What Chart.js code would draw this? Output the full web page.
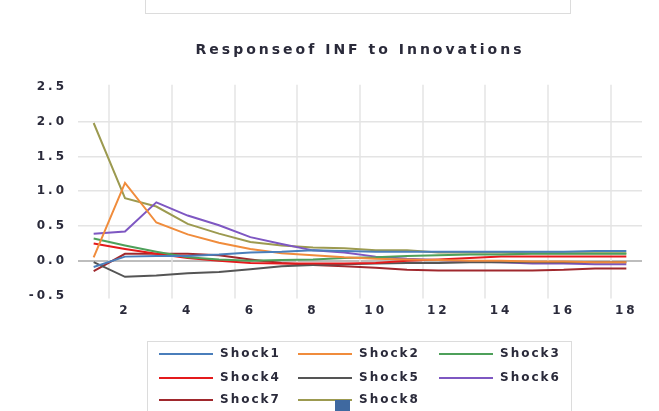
<!DOCTYPE html>
<html>
<head>
<meta charset="utf-8">
<script src="https://cdn.jsdelivr.net/npm/chart.js@4/dist/chart.umd.min.js"></script>
<style>
  html, body { margin: 0; padding: 0; background: #fff; }
  #wrap { position: relative; width: 659px; height: 411px; overflow: hidden; }
  #topbox { position: absolute; left: 145px; top: -12px; width: 426px; height: 26px;
            border: 1.5px solid #dcdcdc; box-sizing: border-box; }
  #legend { position: absolute; left: 147px; top: 341px; width: 425px; height: 90px;
            border: 1.5px solid #dcdcdc; box-sizing: border-box; }
  .item { position: absolute; height: 14px; font: bold 12px "DejaVu Sans", sans-serif;
          letter-spacing: 2px; color: #2a2a3a; }
  .item .ln { position: absolute; top: 6px; height: 2px; width: 54px; }
  .item .tx { position: absolute; left: 61px; top: -1px; white-space: nowrap; }
  #marker { position: absolute; left: 335px; top: 400px; width: 15px; height: 12px; background: #3f69a0; }
</style>
</head>
<body>
<div id="wrap">
  <canvas id="chart" width="659" height="411"></canvas>
  <div id="topbox"></div>
  <div id="legend"></div>
  <div id="marker"></div>
</div>
<script>
// periods 1..18
const periods = ['1','2','3','4','5','6','7','8','9','10','11','12','13','14','15','16','17','18'];

const seriesNames  = ['Shock1','Shock2','Shock3','Shock4','Shock5','Shock6','Shock7','Shock8'];
const seriesColors = ['#4a7ebb','#f08c3c','#4ea05a','#e41a1c','#555555','#7e57c2','#a0282d','#9c9a50'];

const shock1 = [-0.09, 0.06, 0.07, 0.07, 0.09, 0.12, 0.13, 0.15, 0.14, 0.13, 0.13, 0.13, 0.13, 0.13, 0.13, 0.13, 0.14, 0.14];
const shock2 = [0.05, 1.12, 0.55, 0.38, 0.26, 0.17, 0.11, 0.08, 0.05, 0.03, 0.02, 0.01, 0.0, 0.0, -0.01, -0.01, -0.02, -0.02];
const shock3 = [0.32, 0.22, 0.13, 0.05, 0.02, 0.0, 0.01, 0.02, 0.04, 0.05, 0.07, 0.08, 0.09, 0.09, 0.1, 0.1, 0.1, 0.1];
const shock4 = [0.25, 0.17, 0.1, 0.04, 0.0, -0.03, -0.04, -0.04, -0.04, -0.03, 0.0, 0.02, 0.04, 0.06, 0.06, 0.06, 0.06, 0.06];
const shock5 = [-0.02, -0.23, -0.21, -0.18, -0.16, -0.12, -0.08, -0.06, -0.05, -0.04, -0.03, -0.03, -0.02, -0.02, -0.02, -0.02, -0.02, -0.02];
const shock6 = [0.39, 0.42, 0.84, 0.65, 0.51, 0.34, 0.24, 0.15, 0.12, 0.06, 0.03, 0.01, -0.01, -0.02, -0.04, -0.04, -0.05, -0.05];
const shock7 = [-0.15, 0.1, 0.1, 0.1, 0.08, 0.02, -0.03, -0.06, -0.08, -0.1, -0.13, -0.14, -0.14, -0.14, -0.14, -0.13, -0.11, -0.11];
const shock8 = [1.98, 0.9, 0.78, 0.53, 0.39, 0.27, 0.22, 0.19, 0.18, 0.15, 0.15, 0.12, 0.12, 0.12, 0.11, 0.11, 0.11, 0.11];

const seriesValues = [shock1, shock2, shock3, shock4, shock5, shock6, shock7, shock8];

const yMin = -0.5, yMax = 2.5, yStep = 0.5;

const FONT = { family: '"DejaVu Sans", sans-serif', size: 12, weight: 'bold' };
const TEXT = '#2a2a3a';
const GRID = '#e4e4e4';

// canvas letter spacing (the reference text is wide)
const spacingPlugin = {
  id: 'spacing',
  beforeLayout(chart) { chart.ctx.letterSpacing = '3px'; },
  beforeDraw(chart) { chart.ctx.letterSpacing = '3px'; },
};

// vertical grid lines between every second pair of periods
const vGridPlugin = {
  id: 'vgrid',
  beforeDatasetsDraw(chart) {
    const x = chart.scales.x, area = chart.chartArea, ctx = chart.ctx;
    ctx.save();
    ctx.strokeStyle = GRID;
    ctx.lineWidth = 1.5;
    for (let i = 1; i < periods.length; i += 2) {
      const px = Math.round((x.getPixelForTick(i - 1) + x.getPixelForTick(i)) / 2);
      ctx.beginPath();
      ctx.moveTo(px, area.top - 2);
      ctx.lineTo(px, area.bottom + 3);
      ctx.stroke();
    }
    ctx.restore();
  },
};

new Chart(document.getElementById('chart'), {
  type: 'line',
  data: {
    labels: periods,
    datasets: seriesNames.map((name, i) => ({
      label: name,
      data: seriesValues[i],
      borderColor: seriesColors[i],
      backgroundColor: seriesColors[i],
      borderWidth: 2,
      pointRadius: 0,
      tension: 0,
      fill: false,
    })),
  },
  options: {
    responsive: false,
    animation: false,
    layout: { padding: { left: 0, right: 17, top: 0, bottom: 85 } },
    plugins: {
      legend: { display: false },
      tooltip: { enabled: false },
      title: {
        display: true,
        fullSize: false,
        text: 'Responseof INF to Innovations',
        color: TEXT,
        font: { family: FONT.family, size: 14, weight: 'bold' },
        padding: { top: 42, bottom: 28 },
      },
    },
    scales: {
      x: {
        offset: true,
        grid: { display: false, drawTicks: false },
        border: { display: false },
        ticks: {
          autoSkip: false,
          maxRotation: 0,
          padding: 8,
          color: TEXT,
          font: FONT,
          callback: function (value) {
            const lab = this.getLabelForValue(value);
            return (Number(lab) % 2 === 0) ? lab : '';
          },
        },
      },
      y: {
        min: yMin,
        max: yMax,
        afterFit(scale) { scale.width = 78; },
        grid: {
          drawTicks: false,
          color: (ctx) => {
            const v = ctx.tick ? ctx.tick.value : null;
            if (v === null || v === yMin || v === yMax) return 'rgba(0,0,0,0)';
            return v === 0 ? '#bdbdbd' : GRID;
          },
          lineWidth: (ctx) => (ctx.tick && ctx.tick.value === 0) ? 2 : 1.5,
        },
        border: { display: false },
        ticks: {
          stepSize: yStep,
          padding: 11,
          color: TEXT,
          font: FONT,
          callback: (v) => v.toFixed(1),
        },
      },
    },
  },
  plugins: [spacingPlugin, vGridPlugin],
});

// legend box, three columns
const colX = [11, 150, 291];
const rowY = [346, 370, 392];
const legend = document.getElementById('legend');
seriesNames.forEach((name, i) => {
  const el = document.createElement('div');
  el.className = 'item';
  el.style.left = colX[i % 3] + 'px';
  el.style.top = (rowY[Math.floor(i / 3)] - 341) + 'px';
  el.innerHTML = '<div class="ln" style="background:' + seriesColors[i] + '"></div><div class="tx"></div>';
  el.querySelector('.tx').textContent = name;
  legend.appendChild(el);
});
</script>
</body>
</html>
